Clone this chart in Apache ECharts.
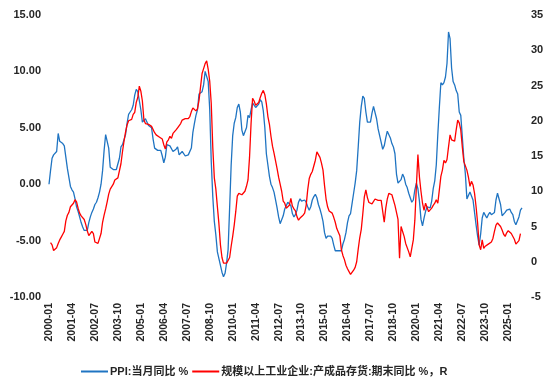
<!DOCTYPE html>
<html>
<head>
<meta charset="utf-8">
<script src="https://cdn.jsdelivr.net/npm/echarts@6/dist/echarts.min.js"></script>
<style>
html,body{margin:0;padding:0;background:#fff;}
#c{width:554px;height:388px;}
</style>
</head>
<body>
<div id="c"></div>
<script>
// Monthly categories 2000-01 .. 2025-10
var startYear = 2000, endYear = 2025, endMonth = 10;
var categories = [];
for (var y = startYear; y <= endYear; y++) {
  for (var m = 1; m <= 12; m++) {
    if (y === endYear && m > endMonth) break;
    categories.push(y + '-' + (m < 10 ? '0' + m : '' + m));
  }
}

var ppiName = 'PPI:当月同比 %';
var invName = '规模以上工业企业:产成品存货:期末同比 %，R';

// PPI: monthly YoY % (left axis)
var ppi = [
  0.0, 1.2, 2.3, 2.6, 2.6, 2.9, 4.5, 3.8, 3.7, 3.6, 3.4, 2.4,
  1.4, 0.6, -0.2, -0.5, -0.7, -1.3, -2.0, -2.4, -2.9, -3.4, -3.8, -4.1,
  -4.1, -4.1, -3.4, -2.9, -2.5, -2.2, -1.8, -1.6, -1.2, -0.7, 0.0, 1.2,
  3.0, 4.4, 4.3, 3.2, 1.5, 1.4, 1.3, 1.3, 1.3, 1.4, 2.3, 3.3,
  3.5, 3.6, 4.4, 5.4, 6.2, 6.4, 6.6, 7.0, 7.9, 8.4, 8.2, 7.4,
  6.6, 5.5, 5.5, 5.8, 5.9, 5.2, 5.2, 5.0, 4.0, 3.2, 3.1, 3.0,
  3.0, 3.0, 2.5, 1.9, 2.4, 3.5, 3.6, 3.4, 3.5, 2.9, 2.8, 3.1,
  3.3, 2.6, 2.7, 2.9, 2.8, 2.5, 2.4, 2.6, 2.7, 3.2, 4.6, 5.4,
  6.1, 6.6, 8.0, 8.1, 8.2, 8.8, 10.0, 10.1, 9.1, 6.6, 2.0, -1.1,
  -3.3, -4.5, -6.0, -6.6, -7.2, -7.8, -8.2, -7.9, -7.0, -5.8, -2.1, 1.7,
  4.3, 5.4, 5.9, 6.8, 7.1, 6.4, 4.8, 4.3, 4.3, 5.0, 6.1, 5.9,
  6.6, 7.2, 7.3, 6.8, 6.8, 7.1, 7.5, 7.3, 6.5, 5.0, 2.7, 1.7,
  0.7, 0.0, -0.3, -0.7, -1.4, -2.1, -2.9, -3.5, -3.6, -2.8, -2.2, -1.9,
  -1.6, -1.6, -1.9, -2.6, -2.9, -2.7, -2.3, -1.6, -1.3, -1.5, -1.4, -1.4,
  -1.6, -2.0, -2.3, -2.0, -1.4, -1.1, -0.9, -1.2, -1.8, -2.2, -2.7, -3.3,
  -4.3, -4.8, -4.6, -4.6, -4.6, -4.8, -5.4, -5.9, -5.9, -5.9, -5.9, -5.9,
  -5.3, -4.9, -4.3, -3.4, -2.8, -2.6, -1.7, -0.8, 0.1, 1.2, 3.3, 5.5,
  6.9, 7.8, 7.6, 6.4, 5.5, 5.5, 5.5, 6.3, 6.9, 6.9, 5.8, 4.9,
  4.3, 3.7, 3.1, 3.4, 4.1, 4.7, 4.6, 4.1, 3.6, 3.3, 2.7, 0.9,
  0.1, 0.1, 0.4, 0.9, 0.6, 0.0, -0.3, -0.8, -1.2, -1.6, -1.4, -0.5,
  0.1, -0.4, -1.5, -3.1, -3.7, -3.0, -2.4, -2.0, -2.1, -2.1, -1.5, -0.4,
  0.3, 1.7, 4.4, 6.8, 9.0, 8.8, 9.0, 9.5, 10.7, 13.5, 12.9, 10.3,
  9.1, 8.8, 8.3, 8.0, 6.4, 6.1, 4.2, 2.3, 0.9, -1.3, -1.3, -0.7,
  -0.8, -1.4, -2.5, -3.6, -4.6, -5.4, -4.4, -3.0, -2.5, -2.6, -3.0, -2.7,
  -2.5, -2.7, -2.8, -2.5, -1.4, -0.8, -0.8, -1.8, -2.8, -2.9, -2.5, -2.3,
  -2.3, -2.2, -2.5, -2.7, -3.3, -3.6, -3.6, -2.9, -2.3, -2.1
];

// Finished-goods inventory YoY % (right axis)
var inventory = [
  null, 2.7, 2.4, 1.6, 1.5, 2.0, 2.6, 3.1, 3.5, 3.9, 4.3, 5.8,
  6.6, 7.0, 7.8, 7.8, 8.3, 8.8, 8.5, 7.6, 6.9, 6.5, 6.6, 6.0,
  5.3, 4.4, 3.7, 3.8, 4.3, 4.0, 2.8, 2.7, 2.6, 2.8, 4.0, 5.6,
  6.6, 7.5, 8.5, 9.6, 10.3, 10.5, 11.0, 11.6, 11.7, 11.9, 12.0, 13.9,
  15.6, 17.1, 18.4, 19.4, 20.0, 20.0, 20.2, 20.9, 21.2, 22.6, 23.3, 24.9,
  24.2, 22.8, 20.1, 19.6, 19.6, 19.5, 19.3, 19.2, 19.2, 18.3, 18.0, 17.8,
  17.7, 17.6, 17.4, 16.6, 16.0, 17.0, 17.3, 17.8, 17.5, 18.2, 18.4, 18.7,
  19.0, 19.1, 19.6, 20.1, 20.2, 20.3, 20.3, 20.3, 20.6, 21.3, 21.8, 21.6,
  21.4, 21.7, 22.9, 24.8, 26.7, 27.4, 28.1, 28.5, 27.3, 25.6, 22.4, 16.2,
  11.9, 10.3, 7.8, 5.4, 2.4, 0.6, -0.2, -0.4, -0.2, 0.2, 0.6, 2.2,
  3.6, 5.2, 7.1, 9.3, 9.7, 9.7, 9.5, 9.4, 10.0, 10.7, 11.6, 14.8,
  19.6, 23.2, 22.8, 22.2, 22.0, 22.6, 23.3, 23.9, 24.3, 23.7, 22.4, 20.6,
  19.5, 17.8, 16.4, 15.4, 14.3, 13.2, 12.0, 11.0, 10.0, 8.6, 8.3, 7.6,
  7.6, 8.0, 9.0, 7.9, 7.5, 7.2, 6.4, 5.9, 6.2, 6.4, 6.6, 6.9,
  8.0, 10.2, 11.8, 12.4, 12.8, 12.9, 14.4, 15.6, 15.2, 14.8, 14.0, 13.0,
  10.8, 8.9, 7.8, 7.2, 7.2, 6.9, 6.3, 5.6, 4.7, 4.5, 3.7, 1.7,
  0.9, 0.3, -0.5, -1.0, -1.4, -1.8, -1.6, -1.2, -0.8, 0.0, 1.8, 3.4,
  4.6, 6.8, 9.2, 10.2, 9.1, 8.4, 8.3, 8.2, 8.1, 8.9, 9.0, 8.7,
  8.6, 8.7, 8.8, 5.6, 7.6, 8.9, 9.7, 9.8, 9.5, 9.3, 8.0, 7.0,
  6.0, 0.5, 5.0, 4.3, 3.6, 2.6, 2.4, 1.4, 0.7, 0.5, 3.1, 5.9,
  10.7, 15.2, 12.0, 10.0, 8.3, 7.3, 8.3, 8.1, 7.1, 7.3, 7.6, 8.0,
  8.3, 8.8, 8.3, 10.2, 12.1, 13.0, 14.4, 14.0, 14.5, 16.3, 18.0, 17.3,
  17.1, 17.1, 18.7, 20.1, 19.7, 18.7, 16.3, 14.2, 14.0, 13.0, 12.0, 10.7,
  11.4, 10.9, 9.7, 7.8, 5.5, 2.4, 1.7, 3.1, 1.9, 2.2, 2.4, 2.5,
  2.6, 2.8, 3.3, 4.3, 5.2, 5.5, 5.5, 5.0, 4.5, 3.9, 3.6, 4.1,
  4.4, 4.5, 4.0, 3.8, 3.2, 2.5, 2.5, 3.0, 4.0, null
];

var leftTicks = { min: -10, max: 15, interval: 5 };
var rightTicks = { min: -5, max: 35, interval: 5 };

var FONT = '"Liberation Sans", "Noto Sans CJK SC", sans-serif';
var TXT = '#262626';

var chart = echarts.init(document.getElementById('c'), null, { renderer: 'canvas' });
chart.setOption({
  animation: false,
  backgroundColor: '#ffffff',
  grid: { left: 49, right: 32, top: 15, bottom: 91 },
  legend: {
    left: 76, top: 361,
    itemWidth: 27, itemHeight: 2, itemGap: 4,
    icon: 'rect',
    textStyle: { fontSize: 11, color: TXT, fontFamily: FONT, fontWeight: 'bold', padding: [0, 0, 0, -3] },
    data: [ppiName, invName]
  },
  xAxis: {
    type: 'category',
    data: categories,
    boundaryGap: false,
    axisLine: { show: false },
    axisTick: { show: false },
    splitLine: { show: false },
    axisLabel: {
      interval: 14, rotate: 90, margin: 6,
      fontSize: 10.5, fontWeight: 'bold', color: TXT, fontFamily: FONT
    }
  },
  yAxis: [
    {
      type: 'value', position: 'left',
      min: leftTicks.min, max: leftTicks.max, interval: leftTicks.interval,
      axisLine: { show: false }, axisTick: { show: false }, splitLine: { show: false },
      axisLabel: {
        margin: 8, fontSize: 11, fontWeight: 'bold', color: TXT, fontFamily: FONT,
        formatter: function (v) { return v.toFixed(2); }
      }
    },
    {
      type: 'value', position: 'right',
      min: rightTicks.min, max: rightTicks.max, interval: rightTicks.interval,
      axisLine: { show: false }, axisTick: { show: false }, splitLine: { show: false },
      axisLabel: { margin: 9, fontSize: 11, fontWeight: 'bold', color: TXT, fontFamily: FONT }
    }
  ],
  series: [
    {
      name: ppiName, type: 'line', yAxisIndex: 0, data: ppi,
      showSymbol: false, symbol: 'none',
      lineStyle: { color: '#1F74C2', width: 1.3 }, itemStyle: { color: '#1F74C2' }
    },
    {
      name: invName, type: 'line', yAxisIndex: 1, data: inventory,
      showSymbol: false, symbol: 'none', connectNulls: true,
      lineStyle: { color: '#FF0000', width: 1.3 }, itemStyle: { color: '#FF0000' }
    }
  ]
});
</script>
</body>
</html>
